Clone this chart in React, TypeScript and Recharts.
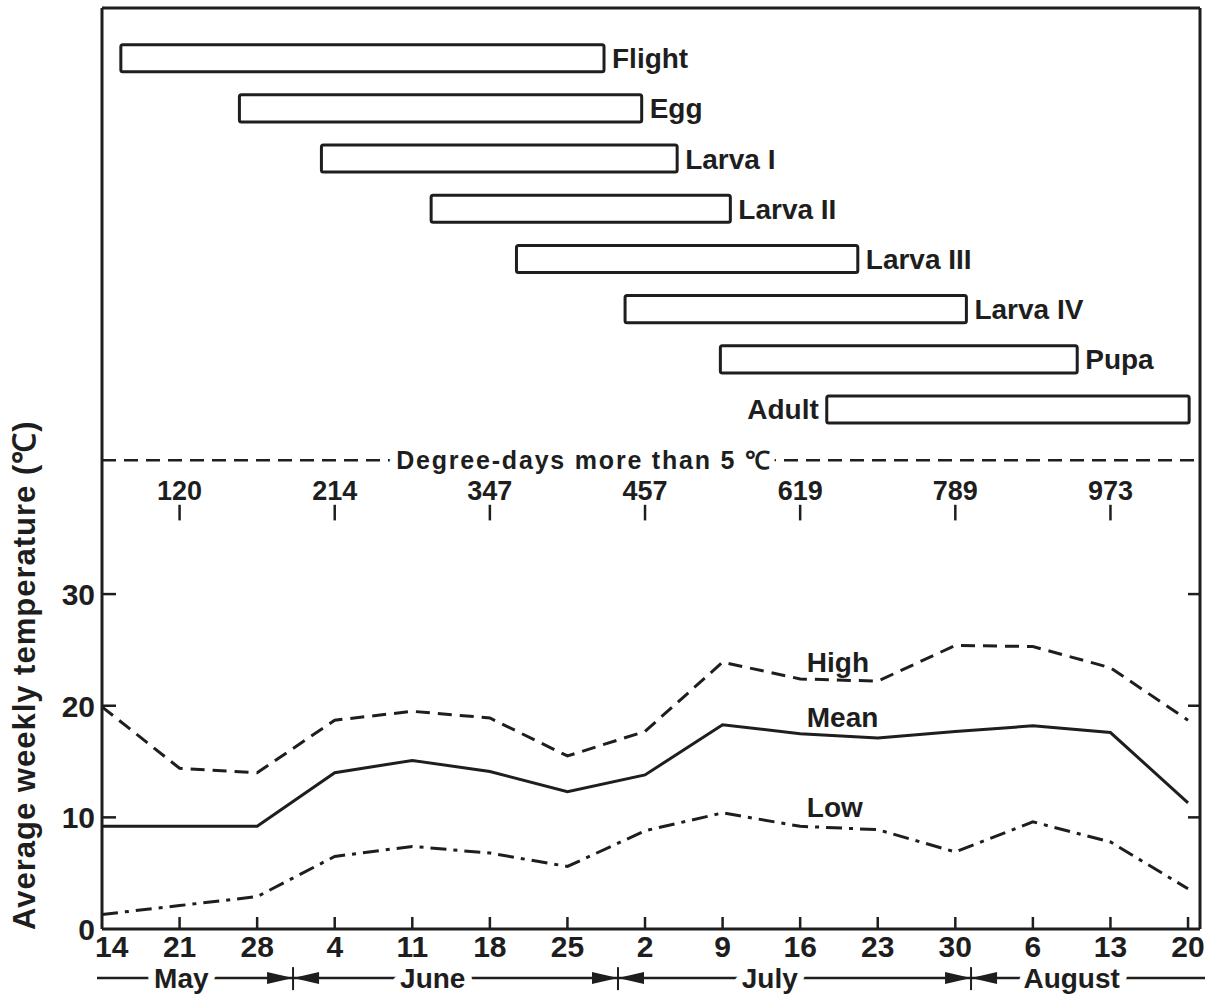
import {
  ComposedChart,
  Line,
  XAxis,
  YAxis,
  ReferenceArea,
  ReferenceLine,
  ReferenceDot,
} from "recharts";

const INK = "#1e1e1e";
const FONT = "'Liberation Sans', Arial, Helvetica, sans-serif";

// weekly dates, x values are days counted from 14 May
const weekLabels = ["14", "21", "28", "4", "11", "18", "25", "2", "9", "16", "23", "30", "6", "13", "20"];
const weekDays = weekLabels.map((_, i) => i * 7);

// average weekly temperature (°C)
const highTemp = [19.9, 14.4, 14.0, 18.7, 19.5, 18.9, 15.5, 17.7, 23.9, 22.4, 22.2, 25.4, 25.3, 23.4, 18.7];
const meanTemp = [9.2, 9.2, 9.2, 14.0, 15.1, 14.1, 12.3, 13.8, 18.3, 17.5, 17.1, 17.7, 18.2, 17.6, 11.3];
const lowTemp = [1.3, 2.1, 2.9, 6.5, 7.4, 6.8, 5.6, 8.8, 10.4, 9.2, 8.9, 6.9, 9.6, 7.8, 3.6];

// life stages (days from 14 May)
const stageNames = ["Flight", "Egg", "Larva I", "Larva II", "Larva III", "Larva IV", "Pupa", "Adult"];
const stageStart = [1.7, 12.4, 19.8, 29.7, 37.4, 47.2, 55.8, 65.4];
const stageEnd = [45.3, 48.7, 51.9, 56.7, 68.2, 78.0, 88.0, 98.1];

// accumulated degree-days > 5 °C
const degreeDays = [120, 214, 347, 457, 619, 789, 973];
const degreeDayAt = [7, 21, 35, 49, 63, 77, 91];

// months along the bottom
const monthNames = ["May", "June", "July", "August"];
const monthFrom = [-0.45, 17.24, 46.56, 78.42];
const monthTo = [17.24, 46.56, 78.42, 99.53];

const tempData = weekDays.map((day, i) => ({
  day,
  high: highTemp[i],
  mean: meanTemp[i],
  low: lowTemp[i],
}));

const X_MAX = 99.08;
const T_MAX = 82.5;

const txt = { fontFamily: FONT, fontWeight: 700, fill: INK };

const XTick = (p: any) => {
  const { x, y, index } = p;
  const first = index === 0;
  return (
    <g>
      {!first && <line x1={x} x2={x} y1={y} y2={y - 12} stroke={INK} strokeWidth={2.5} />}
      <text x={first ? x - 7 : x} y={y + 28} textAnchor={first ? "start" : "middle"} fontSize={30} {...txt}>
        {weekLabels[index]}
      </text>
    </g>
  );
};

const LeftTick = (p: any) => {
  const { x, y, payload } = p;
  return (
    <g>
      {payload.value !== 0 && <line x1={x} x2={x + 14} y1={y} y2={y} stroke={INK} strokeWidth={2.5} />}
      <text x={x - 7} y={y + 11} textAnchor="end" fontSize={30} {...txt}>
        {payload.value}
      </text>
    </g>
  );
};

const RightTick = (p: any) => {
  const { x, y } = p;
  return <line x1={x} x2={x - 12} y1={y} y2={y} stroke={INK} strokeWidth={2.5} />;
};

const YTitle = (p: any) => {
  const vb = p.viewBox;
  const x = vb.x + 35;
  const y = vb.y + vb.height + 1;
  return (
    <text x={x} y={y} transform={`rotate(-90 ${x} ${y})`} fontSize={31} letterSpacing={1} {...txt}>
      Average weekly temperature (℃)
    </text>
  );
};

const DegreeRule = (p: any) => {
  const { x1, x2, y1 } = p;
  const tx = x1 + (x2 - x1) * 0.439;
  return (
    <g>
      <line x1={x1} x2={x2} y1={y1} y2={y1} stroke={INK} strokeWidth={2.5} strokeDasharray="14 8" />
      <text
        x={tx}
        y={y1}
        dy="0.36em"
        textAnchor="middle"
        fontSize={25}
        letterSpacing={1.8}
        stroke="#fff"
        strokeWidth={16}
        strokeLinejoin="round"
        paintOrder="stroke"
        {...txt}
      >
        Degree-days more than 5 ℃
      </text>
    </g>
  );
};

const ddShape = (value: number) => (p: any) => {
  const { x1, y1, y2 } = p;
  return (
    <g>
      <line x1={x1} x2={x1} y1={y1} y2={y2} stroke={INK} strokeWidth={2.5} />
      <text x={x1} y={y1 - 5} textAnchor="middle" fontSize={27} {...txt}>
        {value}
      </text>
    </g>
  );
};

const monthShape = (i: number) => (p: any) => {
  const { x1, x2, y1 } = p;
  const y = y1;
  const arrowL = i > 0;
  const arrowR = i < monthNames.length - 1;
  const tx = x1 + (x2 - x1) * 0.43;
  return (
    <g>
      <line x1={x1} x2={x2} y1={y} y2={y} stroke={INK} strokeWidth={2.5} />
      {arrowL && <polygon points={`${x1},${y} ${x1 + 26},${y - 6} ${x1 + 26},${y + 6}`} fill={INK} />}
      {arrowR && <polygon points={`${x2},${y} ${x2 - 26},${y - 6} ${x2 - 26},${y + 6}`} fill={INK} />}
      {arrowR && <line x1={x2} x2={x2} y1={y - 11} y2={y + 12} stroke={INK} strokeWidth={2} />}
      <text
        x={tx}
        y={y}
        dy="0.36em"
        textAnchor="middle"
        fontSize={28}
        stroke="#fff"
        strokeWidth={15}
        strokeLinejoin="round"
        paintOrder="stroke"
        {...txt}
      >
        {monthNames[i]}
      </text>
    </g>
  );
};

const seriesLabel = (name: string) => (p: any) => (
  <text x={p.cx} y={p.cy} dy="0.36em" fontSize={28} {...txt}>
    {name}
  </text>
);

export default function App() {
  return (
    <div style={{ position: "absolute", left: 0, top: 0, background: "#fff" }}>
      <ComposedChart width={1219} height={999} data={tempData} margin={{ top: 8, right: 0, bottom: 0, left: 0 }}>
        <XAxis
          dataKey="day"
          type="number"
          domain={[0, X_MAX]}
          ticks={weekDays}
          interval={0}
          allowDataOverflow
          height={70}
          tickLine={false}
          tickSize={0}
          tickMargin={0}
          tick={(p: any) => <XTick {...p} />}
          axisLine={{ stroke: INK, strokeWidth: 3 }}
        />
        <YAxis
          yAxisId="temp"
          type="number"
          domain={[0, T_MAX]}
          ticks={[0, 10, 20, 30]}
          interval={0}
          allowDataOverflow
          width={102}
          tickLine={false}
          tickSize={0}
          tickMargin={0}
          tick={(p: any) => <LeftTick {...p} />}
          axisLine={{ stroke: INK, strokeWidth: 3 }}
          label={{ content: (p: any) => <YTitle {...p} /> }}
        />
        <YAxis
          yAxisId="right"
          orientation="right"
          type="number"
          domain={[0, T_MAX]}
          ticks={[10, 20, 30]}
          interval={0}
          allowDataOverflow
          width={19}
          tickLine={false}
          tickSize={0}
          tickMargin={0}
          tick={(p: any) => <RightTick {...p} />}
          axisLine={{ stroke: INK, strokeWidth: 3 }}
        />
        <YAxis
          yAxisId="stage"
          hide
          width={0}
          orientation="right"
          type="number"
          domain={[-1, 17.35]}
          reversed
          allowDataOverflow
        />

        {/* top of frame */}
        <ReferenceLine yAxisId="temp" y={T_MAX} stroke={INK} strokeWidth={3} />

        {stageNames.map((name, i) => (
          <ReferenceArea
            key={name}
            yAxisId="stage"
            x1={stageStart[i]}
            x2={stageEnd[i]}
            y1={i - 0.27}
            y2={i + 0.27}
            fill="#fff"
            fillOpacity={1}
            stroke={INK}
            strokeWidth={3}
            radius={2}
            label={{
              value: name,
              position: name === "Adult" ? "left" : "right",
              offset: 8,
              fontSize: 28,
              fontWeight: 700,
              fontFamily: FONT,
              fill: INK,
            }}
          />
        ))}

        <ReferenceLine yAxisId="temp" y={42} shape={(p: any) => <DegreeRule {...p} />} />

        {degreeDays.map((v, i) => (
          <ReferenceLine
            key={v}
            yAxisId="temp"
            segment={[
              { x: degreeDayAt[i], y: 38 },
              { x: degreeDayAt[i], y: 36.6 },
            ]}
            shape={ddShape(v)}
          />
        ))}

        {monthNames.map((m, i) => (
          <ReferenceLine
            key={m}
            yAxisId="temp"
            ifOverflow="visible"
            segment={[
              { x: monthFrom[i], y: -4.4 },
              { x: monthTo[i], y: -4.4 },
            ]}
            shape={monthShape(i)}
          />
        ))}

        <Line
          yAxisId="temp"
          dataKey="high"
          stroke={INK}
          strokeWidth={3}
          strokeDasharray="14 8"
          dot={false}
          isAnimationActive={false}
        />
        <Line yAxisId="temp" dataKey="mean" stroke={INK} strokeWidth={3} dot={false} isAnimationActive={false} />
        <Line
          yAxisId="temp"
          dataKey="low"
          stroke={INK}
          strokeWidth={3}
          strokeDasharray="16 7 4 7"
          dot={false}
          isAnimationActive={false}
        />

        <ReferenceDot yAxisId="temp" x={63.6} y={23.9} shape={seriesLabel("High")} />
        <ReferenceDot yAxisId="temp" x={63.6} y={19.0} shape={seriesLabel("Mean")} />
        <ReferenceDot yAxisId="temp" x={63.6} y={10.9} shape={seriesLabel("Low")} />
      </ComposedChart>
    </div>
  );
}
